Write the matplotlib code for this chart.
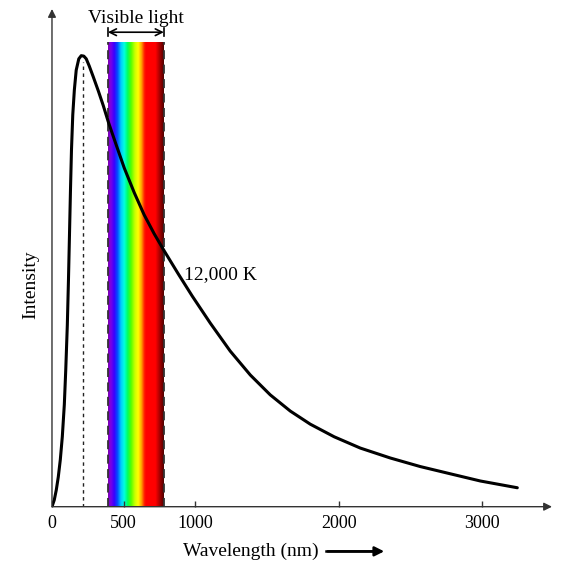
import numpy as np
import matplotlib.pyplot as plt
from matplotlib.colors import LinearSegmentedColormap

plt.rcParams['font.family'] = ['Liberation Serif', 'DejaVu Serif']

# Curve: wavelength (nm) and relative intensity
wavelength = [0, 16, 30, 44, 58, 72, 86, 96, 107, 115, 122, 129, 136, 145, 156,
              169, 187, 204, 222, 239, 260, 288, 323, 358, 393, 448, 504, 574,
              643, 713, 783, 881, 978, 1104, 1243, 1383, 1522, 1662, 1801,
              1968, 2150, 2359, 2568, 2777, 2987, 3245]
intensity = [0, 0.015, 0.037, 0.066, 0.104, 0.155, 0.226, 0.303, 0.403, 0.503,
             0.602, 0.702, 0.791, 0.869, 0.924, 0.968, 0.993, 1.0, 0.999,
             0.993, 0.977, 0.953, 0.922, 0.889, 0.853, 0.802, 0.751, 0.696,
             0.647, 0.605, 0.567, 0.516, 0.467, 0.407, 0.345, 0.292, 0.248,
             0.212, 0.183, 0.155, 0.130, 0.108, 0.089, 0.073, 0.057, 0.042]

peak_nm = 213
visible_nm = [390, 780]
xticks = [0, 500, 1000, 2000, 3000]
xtick_labels = ['0', '500', '1000', '2000', '3000']
curve_label = '12,000 K'

# spectrum colours across the visible band
spec_pos = [0.0, 0.05, 0.11, 0.17, 0.23, 0.29, 0.35, 0.41, 0.48, 0.54, 0.60,
            0.65, 0.68, 0.85, 1.0]
spec_col = ['#8000b0', '#7a00e6', '#3a00ff', '#0050ff', '#00c8ff', '#00ffe0',
            '#00ff60', '#50ff00', '#c8ff00', '#ffff00', '#ffa000', '#ff2000',
            '#ff0000', '#ff0000', '#500000']
cmap = LinearSegmentedColormap.from_list('spec', list(zip(spec_pos, spec_col)))

fig = plt.figure(figsize=(5.65, 5.69), dpi=100)
ax = fig.add_axes([0.0920, 0.1095, 0.8850, 0.8747])
ax.set_xlim(0, 3487)
ax.set_ylim(0, 1.1035)
for s in ax.spines.values():
    s.set_visible(False)

band_top = 1.03
ax.imshow(np.linspace(0, 1, 256)[None, :], cmap=cmap, aspect='auto',
          extent=[visible_nm[0], visible_nm[1], 0, band_top], zorder=1)
for v in visible_nm:
    ax.plot([v, v], [0, band_top], color='#333333', lw=1.3,
            dashes=(5, 3), zorder=2)

ax.plot([peak_nm, peak_nm], [0, 0.985], color='#222222', lw=1.0,
        dashes=(2.5, 2.5), zorder=2)

ax.plot(wavelength, intensity, color='black', lw=2.2, zorder=3,
        solid_joinstyle='round', solid_capstyle='round')

ax.text(922, 0.514, curve_label, fontsize=14, va='center', ha='left')

# visible light marker
ya = 1.052
ax.annotate('', xy=(visible_nm[0], ya), xytext=(visible_nm[1], ya),
            arrowprops=dict(arrowstyle='<->', color='black', lw=1.2,
                            shrinkA=0, shrinkB=0, mutation_scale=12),
            annotation_clip=False)
for v in visible_nm:
    ax.plot([v, v], [ya - 0.009, ya + 0.009], color='black', lw=1.2,
            clip_on=False)
ax.text(sum(visible_nm) / 2, 1.083, 'Visible light', fontsize=14,
        ha='center', va='center')

# axes with arrow heads
ax.annotate('', xy=(1, 0), xytext=(0, 0), xycoords='axes fraction',
            arrowprops=dict(arrowstyle='-|>', color='#333333', lw=1.0,
                            shrinkA=0, shrinkB=0, mutation_scale=12))
ax.annotate('', xy=(0, 1), xytext=(0, 0), xycoords='axes fraction',
            arrowprops=dict(arrowstyle='-|>', color='#333333', lw=1.0,
                            shrinkA=0, shrinkB=0, mutation_scale=12))

ax.set_xticks(xticks)
ax.set_xticklabels(xtick_labels, fontsize=13)
ax.tick_params(axis='x', direction='in', length=4, width=1, color='#333333',
               pad=6)
ax.set_yticks([])

fig.text(0.324, 0.031, 'Wavelength (nm)', fontsize=14, ha='left', va='center')
fig.add_artist(plt.Line2D([0.577, 0.66], [0.031, 0.031], color='black', lw=1.8))
ax.annotate('', xy=(0.68, 0.031), xytext=(0.58, 0.031),
            xycoords='figure fraction',
            arrowprops=dict(arrowstyle='-|>', color='black', lw=1.8,
                            shrinkA=0, shrinkB=0, mutation_scale=14))
fig.text(0.055, 0.50, 'Intensity', fontsize=14, rotation=90,
         ha='center', va='center')

fig.savefig('out.png', dpi=100)
